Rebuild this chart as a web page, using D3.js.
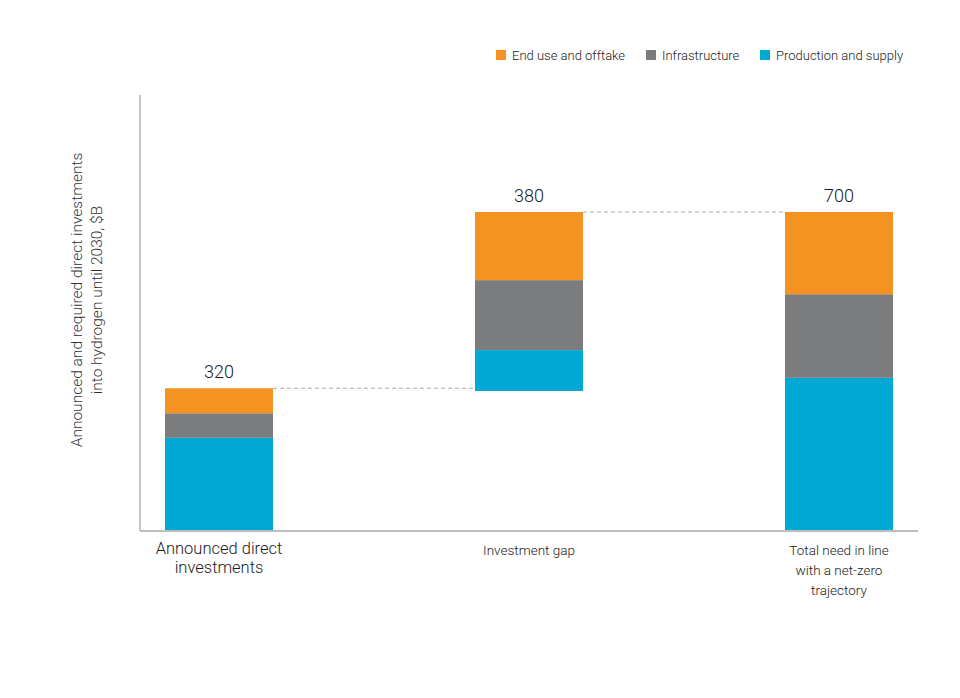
<!DOCTYPE html>
<html>
<head>
<meta charset="utf-8">
<script src="https://cdn.jsdelivr.net/npm/d3@7"></script>
<style>
  body { margin: 0; background: #fff; }
  svg { display: block; font-family: "Roboto", "Inter", sans-serif; font-weight: 300; }
</style>
</head>
<body>
<svg id="chart" width="960" height="698"></svg>
<script>
// ---- data ----
const categories = ["Announced direct investments", "Investment gap", "Total need in line with a net-zero trajectory"];
const categoryLines = [["Announced direct", "investments"], ["Investment gap"], ["Total need in line", "with a net-zero", "trajectory"]];
const seriesNames = ["Production and supply", "Infrastructure", "End use and offtake"];
const productionSupply = [203, 90, 335];
const infrastructure = [54, 154, 184];
const endUseOfftake = [55, 150, 181];
const barBase = [0, 306, 0];
const totalLabels = ["320", "380", "700"];
const legendOrder = ["End use and offtake", "Infrastructure", "Production and supply"];
const yDomain = [0, 700];

const colors = {
  "Production and supply": "#00A9D4",
  "Infrastructure": "#7A7C7D",
  "End use and offtake": "#F59322"
};

const svg = d3.select("#chart");
const x = d3.scalePoint().domain(categories).range([219, 839]);
const y = d3.scaleLinear().domain(yDomain).range([530, 212]);
const barW = 108;

const seriesValues = [productionSupply, infrastructure, endUseOfftake];
const rows = categories.map((c, i) => {
  let acc = barBase[i];
  const segs = seriesNames.map((s, k) => {
    const y0 = acc; acc += seriesValues[k][i];
    return { cat: c, series: s, y0, y1: acc };
  });
  return { cat: c, i, segs, top: acc };
});

// axes
svg.append("line").attr("x1", 140).attr("x2", 140).attr("y1", 95).attr("y2", y(0) + 1)
  .attr("stroke", "#a8a8a8").attr("stroke-width", 1.3);
svg.append("line").attr("x1", 140).attr("x2", 918).attr("y1", y(0) + 1).attr("y2", y(0) + 1)
  .attr("stroke", "#a8a8a8").attr("stroke-width", 1.3);

// bars
rows.forEach(r => {
  svg.append("g").selectAll("rect").data(r.segs).join("rect")
    .attr("x", x(r.cat) - barW / 2)
    .attr("width", barW)
    .attr("y", d => y(d.y1))
    .attr("height", d => y(d.y0) - y(d.y1))
    .attr("fill", d => colors[d.series]);
  svg.append("text")
    .attr("x", x(r.cat)).attr("y", y(r.top) - 10)
    .attr("text-anchor", "middle")
    .attr("font-size", 18).attr("fill", "#1a1a1a")
    .text(totalLabels[r.i]);
});

// connectors
const conn = [[0, 1], [1, 2]];
conn.forEach(([a, b]) => {
  const yy = y(rows[a].top);
  svg.append("line")
    .attr("x1", x(categories[a]) + barW / 2).attr("x2", x(categories[b]) - barW / 2)
    .attr("y1", yy).attr("y2", yy)
    .attr("stroke", "#a9a9a9").attr("stroke-width", 1)
    .attr("stroke-dasharray", "4,3");
});

// category labels
categories.forEach((c, i) => {
  const t = svg.append("text").attr("text-anchor", "middle")
    .attr("font-size", i === 0 ? 16.5 : 13.5).attr("fill", "#1a1a1a");
  const lh = i === 0 ? 19 : 20;
  categoryLines[i].forEach((ln, j) => {
    t.append("tspan").attr("x", x(c)).attr("y", (i === 0 ? 554 : 555) + j * lh).text(ln);
  });
});

// y axis title
const yt = svg.append("text").attr("transform", "translate(0,300) rotate(-90)")
  .attr("text-anchor", "middle").attr("font-size", 15.5).attr("fill", "#333");
yt.append("tspan").attr("x", 0).attr("y", 82).text("Announced and required direct investments");
yt.append("tspan").attr("x", 0).attr("y", 102).text("into hydrogen until 2030, $B");

// legend
const legendX = [496, 646, 760];
legendOrder.forEach((s, i) => {
  svg.append("rect").attr("x", legendX[i]).attr("y", 50).attr("width", 10).attr("height", 10)
    .attr("fill", colors[s]);
  svg.append("text").attr("x", legendX[i] + 16).attr("y", 59.5)
    .attr("font-size", 13).attr("fill", "#1a1a1a").text(s);
});
</script>
</body>
</html>
